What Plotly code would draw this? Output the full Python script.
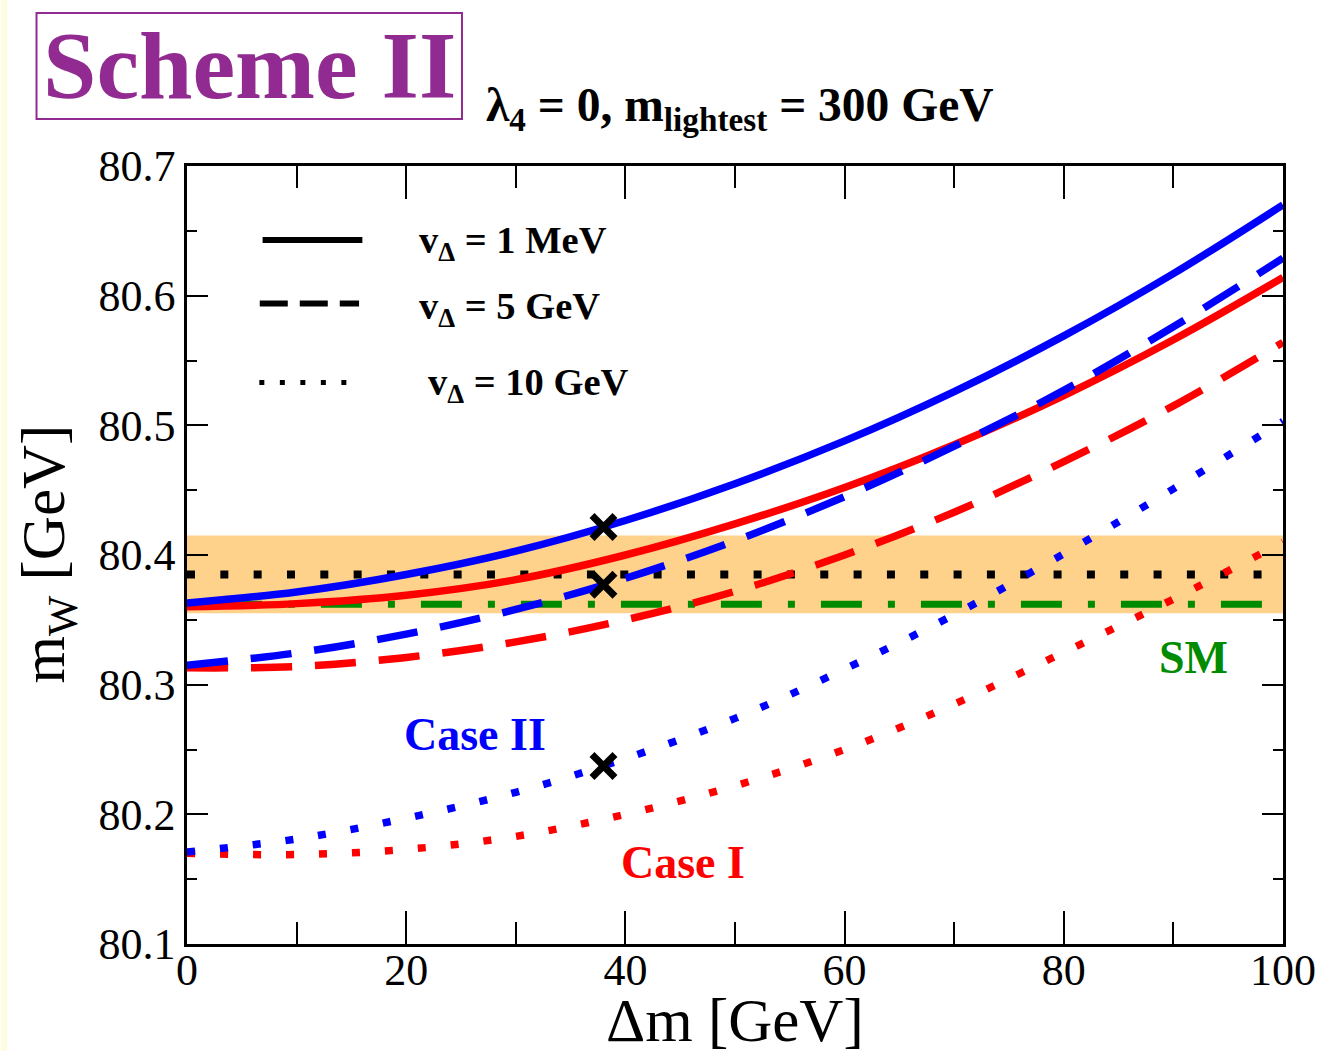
import plotly.graph_objects as go

# Mass splitting grid [GeV]
dm = [0, 10, 20, 30, 40, 50, 60, 70, 80, 90, 100]

# Case I (red): m_W [GeV] for the three triplet vevs
case1_1mev = [80.360, 80.3625, 80.369, 80.381, 80.400, 80.424, 80.452, 80.485, 80.523, 80.566, 80.614]
case1_5gev = [80.313, 80.314, 80.321, 80.333, 80.350, 80.372, 80.400, 80.433, 80.472, 80.515, 80.564]
case1_10gev = [80.170, 80.169, 80.173, 80.183, 80.200, 80.222, 80.250, 80.285, 80.325, 80.366, 80.410]

# Case II (blue)
case2_1mev = [80.363, 80.3715, 80.385, 80.403, 80.4266, 80.455, 80.488, 80.526, 80.569, 80.617, 80.670]
case2_5gev = [80.315, 80.3245, 80.339, 80.358, 80.382, 80.411, 80.445, 80.484, 80.527, 80.576, 80.629]
case2_10gev = [80.171, 80.181, 80.197, 80.217, 80.243, 80.274, 80.312, 80.354, 80.401, 80.451, 80.503]

# Benchmark points (crosses)
bench_dm = [38, 38, 38]
bench_mw = [80.4216, 80.377, 80.2373]

# Measured W mass with uncertainty, and SM prediction
mw_exp = 80.385
mw_exp_err = 0.030
mw_sm = 80.362

x_ticks = [0, 20, 40, 60, 80, 100]
y_ticks = [80.1, 80.2, 80.3, 80.4, 80.5, 80.6, 80.7]

SERIF = "Liberation Serif, Times New Roman, serif"
RED = "#FF0000"
BLUE = "#0000FF"
GREEN = "#008B00"
PURPLE = "#922B91"

fig = go.Figure()

# experimental central value (dotted black) and SM value (dash-dot green)
fig.add_trace(go.Scatter(x=[0, 100], y=[mw_exp, mw_exp], mode="lines",
                         line=dict(color="black", width=8, dash="8px,25.33px")))
fig.add_trace(go.Scatter(x=[-6.03, 100], y=[mw_sm, mw_sm], mode="lines",
                         line=dict(color=GREEN, width=7, dash="41px,26px,7px,26px")))

curve_styles = [
    (case1_10gev, RED, "8px,25px"),
    (case1_5gev, RED, "41px,23px"),
    (case1_1mev, RED, "solid"),
    (case2_10gev, BLUE, "8px,25px"),
    (case2_5gev, BLUE, "41px,23px"),
    (case2_1mev, BLUE, "solid"),
]
for ys, col, dash in curve_styles:
    fig.add_trace(go.Scatter(x=dm, y=ys, mode="lines", line_shape="spline",
                             line=dict(color=col, width=7.5, dash=dash)))

fig.add_trace(go.Scatter(x=bench_dm, y=bench_mw, mode="markers",
                         marker=dict(symbol="x-thin", size=23,
                                     line=dict(color="black", width=7))))

shapes = [
    # pale strip at the left edge of the page
    dict(type="rect", xref="paper", yref="paper", x0=-187 / 1100, x1=-180 / 1100,
         y0=-0.1375, y1=1.2134, fillcolor="#FFFCE6", line=dict(width=0), layer="below"),
    # 1-sigma band of the measurement
    dict(type="rect", xref="x", yref="y", x0=0, x1=100,
         y0=mw_exp - mw_exp_err, y1=mw_exp + mw_exp_err,
         fillcolor="#FFD28C", line=dict(width=0), layer="below"),
    # title frame
    dict(type="rect", xref="paper", yref="paper", x0=-0.1373, x1=0.2509,
         y0=1.0604, y1=1.1967, line=dict(color=PURPLE, width=2)),
    # key line samples
    dict(type="line", xref="x", yref="y", x0=6.9, x1=16.0, y0=80.643, y1=80.643,
         line=dict(color="black", width=6)),
    dict(type="line", xref="x", yref="y", x0=6.64, x1=15.7, y0=80.594, y1=80.594,
         line=dict(color="black", width=6, dash="28px,12px")),
    dict(type="line", xref="x", yref="y", x0=6.6, x1=14.6, y0=80.533, y1=80.533,
         line=dict(color="black", width=5, dash="5px,15.5px")),
]

annotations = [
    dict(text="<b>Scheme II</b>", xref="paper", yref="paper", x=0.0573, y=1.1298,
         xanchor="center", yanchor="middle", showarrow=False,
         font=dict(family=SERIF, size=96, color=PURPLE)),
    dict(text="<b>λ<sub>4</sub> = 0, m<sub>lightest</sub> = 300 GeV</b>", xref="paper", yref="paper",
         x=(485 - 187) / 1100, y=(944 - 108) / 778, xanchor="left", yanchor="middle",
         showarrow=False, font=dict(family=SERIF, size=47.5, color="black")),
    dict(text="<b>v<sub>Δ</sub> = 1 MeV</b>", x=21.0, y=80.6406, xref="x", yref="y",
         xanchor="left", yanchor="middle", showarrow=False,
         font=dict(family=SERIF, size=38.5, color="black")),
    dict(text="<b>v<sub>Δ</sub> = 5 GeV</b>", x=21.0, y=80.5897, xref="x", yref="y",
         xanchor="left", yanchor="middle", showarrow=False,
         font=dict(family=SERIF, size=38.5, color="black")),
    dict(text="<b>v<sub>Δ</sub> = 10 GeV</b>", x=21.8, y=80.531, xref="x", yref="y",
         xanchor="left", yanchor="middle", showarrow=False,
         font=dict(family=SERIF, size=38.5, color="black")),
    dict(text="<b>Case II</b>", x=26.27, y=80.2612, xref="x", yref="y", showarrow=False,
         font=dict(family=SERIF, size=46, color=BLUE)),
    dict(text="<b>Case I</b>", x=45.27, y=80.1632, xref="x", yref="y", showarrow=False,
         font=dict(family=SERIF, size=46, color=RED)),
    dict(text="<b>SM</b>", x=91.8, y=80.3206, xref="x", yref="y", showarrow=False,
         font=dict(family=SERIF, size=46, color=GREEN)),
    dict(text="Δm [GeV]", xref="paper", yref="paper", x=0.5, y=-0.0977,
         xanchor="center", yanchor="middle", showarrow=False,
         font=dict(family=SERIF, size=61, color="black")),
    dict(text="m<sub>W</sub> [GeV]", xref="paper", yref="paper", x=-0.1264, y=0.5013,
         xanchor="center", yanchor="middle", textangle=-90, showarrow=False,
         font=dict(family=SERIF, size=61, color="black")),
]

fig.update_layout(
    width=1328, height=1051, autosize=False,
    margin=dict(l=187, r=41, t=166, b=107),
    paper_bgcolor="white", plot_bgcolor="white",
    showlegend=False,
    shapes=shapes, annotations=annotations,
    font=dict(family=SERIF, color="black"),
)
fig.update_xaxes(
    range=[0, 100], tickmode="array", tickvals=x_ticks,
    ticktext=[str(v) for v in x_ticks],
    ticks="inside", ticklen=33, tickwidth=2, tickcolor="black",
    minor=dict(dtick=10, ticks="inside", ticklen=22, tickwidth=2, tickcolor="black"),
    showline=True, linewidth=2.5, linecolor="black", mirror="ticks",
    showgrid=False, zeroline=False, ticklabelstandoff=-15,
    tickfont=dict(family=SERIF, size=44, color="black"),
)
fig.update_yaxes(
    range=[80.1, 80.7], tickmode="array", tickvals=y_ticks,
    ticktext=[f"{v:.1f}" for v in y_ticks],
    ticks="inside", ticklen=21, tickwidth=2, tickcolor="black",
    minor=dict(dtick=0.05, tick0=80.1, ticks="inside", ticklen=10, tickwidth=2, tickcolor="black"),
    showline=True, linewidth=2.5, linecolor="black", mirror="ticks",
    showgrid=False, zeroline=False,
    tickfont=dict(family=SERIF, size=44, color="black"),
)

fig.write_html("out.html")
